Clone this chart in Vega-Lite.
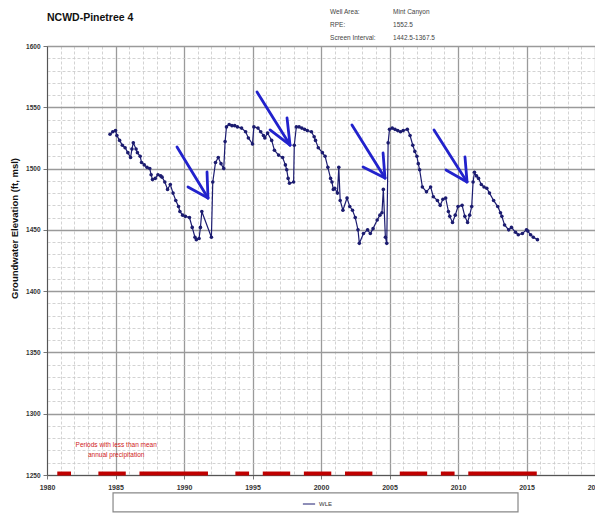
{
  "$schema": "https://vega.github.io/schema/vega-lite/v6.json",
  "width": 548,
  "height": 429,
  "autosize": "none",
  "padding": {"left": 47, "top": 46, "right": 0, "bottom": 40},
  "background": "white",
  "config": {"font": "Liberation Sans", "view": {"stroke": null}},
  "title": {"text": "NCWD-Pinetree 4", "anchor": "start", "frame": "group", "fontSize": 10.5, "fontWeight": "bold", "font": "Liberation Sans", "baseline": "alphabetic", "offset": -22, "color": "#111"},
  "datasets": {
    "wle": [
      {"t": 1984.6, "v": 1528}, {"t": 1984.8, "v": 1530}, {"t": 1985.0, "v": 1531}, {"t": 1985.1, "v": 1527},
      {"t": 1985.3, "v": 1523}, {"t": 1985.5, "v": 1519}, {"t": 1985.7, "v": 1517}, {"t": 1985.9, "v": 1513},
      {"t": 1986.1, "v": 1509}, {"t": 1986.2, "v": 1516}, {"t": 1986.3, "v": 1521}, {"t": 1986.5, "v": 1516},
      {"t": 1986.6, "v": 1513}, {"t": 1986.8, "v": 1510}, {"t": 1986.9, "v": 1505}, {"t": 1987.1, "v": 1503},
      {"t": 1987.3, "v": 1501}, {"t": 1987.5, "v": 1500}, {"t": 1987.6, "v": 1495}, {"t": 1987.7, "v": 1491},
      {"t": 1987.9, "v": 1492}, {"t": 1988.1, "v": 1495}, {"t": 1988.3, "v": 1494}, {"t": 1988.4, "v": 1493},
      {"t": 1988.6, "v": 1489}, {"t": 1988.8, "v": 1483}, {"t": 1989.0, "v": 1487}, {"t": 1989.2, "v": 1480},
      {"t": 1989.4, "v": 1474}, {"t": 1989.6, "v": 1469}, {"t": 1989.7, "v": 1465}, {"t": 1989.9, "v": 1462},
      {"t": 1990.1, "v": 1461}, {"t": 1990.4, "v": 1460}, {"t": 1990.6, "v": 1452}, {"t": 1990.8, "v": 1444},
      {"t": 1990.9, "v": 1442}, {"t": 1991.1, "v": 1443}, {"t": 1991.2, "v": 1452}, {"t": 1991.3, "v": 1465},
      {"t": 1992.0, "v": 1444}, {"t": 1992.1, "v": 1489}, {"t": 1992.3, "v": 1505}, {"t": 1992.5, "v": 1509},
      {"t": 1992.7, "v": 1504}, {"t": 1992.9, "v": 1500}, {"t": 1993.0, "v": 1522}, {"t": 1993.1, "v": 1534},
      {"t": 1993.3, "v": 1536}, {"t": 1993.5, "v": 1535}, {"t": 1993.7, "v": 1535}, {"t": 1993.9, "v": 1534},
      {"t": 1994.2, "v": 1533}, {"t": 1994.5, "v": 1530}, {"t": 1994.7, "v": 1525}, {"t": 1995.0, "v": 1520},
      {"t": 1995.1, "v": 1534}, {"t": 1995.4, "v": 1533}, {"t": 1995.6, "v": 1530}, {"t": 1995.8, "v": 1527},
      {"t": 1995.9, "v": 1525}, {"t": 1996.1, "v": 1529}, {"t": 1996.4, "v": 1523}, {"t": 1996.6, "v": 1515},
      {"t": 1996.9, "v": 1511}, {"t": 1997.2, "v": 1509}, {"t": 1997.4, "v": 1503}, {"t": 1997.5, "v": 1499},
      {"t": 1997.6, "v": 1492}, {"t": 1997.7, "v": 1488}, {"t": 1998.0, "v": 1489}, {"t": 1998.05, "v": 1519},
      {"t": 1998.2, "v": 1534}, {"t": 1998.4, "v": 1534}, {"t": 1998.6, "v": 1533}, {"t": 1998.8, "v": 1532},
      {"t": 1999.0, "v": 1531}, {"t": 1999.3, "v": 1530}, {"t": 1999.5, "v": 1526}, {"t": 1999.6, "v": 1523},
      {"t": 1999.8, "v": 1517}, {"t": 2000.1, "v": 1513}, {"t": 2000.3, "v": 1510}, {"t": 2000.5, "v": 1501},
      {"t": 2000.7, "v": 1492}, {"t": 2000.8, "v": 1489}, {"t": 2000.9, "v": 1483}, {"t": 2001.0, "v": 1484},
      {"t": 2001.2, "v": 1480}, {"t": 2001.3, "v": 1501}, {"t": 2001.4, "v": 1474}, {"t": 2001.6, "v": 1466},
      {"t": 2001.9, "v": 1476}, {"t": 2002.1, "v": 1469}, {"t": 2002.3, "v": 1466}, {"t": 2002.5, "v": 1460},
      {"t": 2002.7, "v": 1450}, {"t": 2002.8, "v": 1439}, {"t": 2003.1, "v": 1447}, {"t": 2003.4, "v": 1450},
      {"t": 2003.6, "v": 1447}, {"t": 2003.8, "v": 1451}, {"t": 2004.1, "v": 1458}, {"t": 2004.3, "v": 1462},
      {"t": 2004.45, "v": 1464}, {"t": 2004.55, "v": 1483}, {"t": 2004.7, "v": 1444}, {"t": 2004.8, "v": 1439},
      {"t": 2004.9, "v": 1521}, {"t": 2005.0, "v": 1532}, {"t": 2005.2, "v": 1533}, {"t": 2005.4, "v": 1532},
      {"t": 2005.6, "v": 1531}, {"t": 2005.8, "v": 1530}, {"t": 2006.0, "v": 1531}, {"t": 2006.3, "v": 1532},
      {"t": 2006.5, "v": 1527}, {"t": 2006.7, "v": 1519}, {"t": 2006.85, "v": 1514}, {"t": 2007.0, "v": 1510},
      {"t": 2007.1, "v": 1504}, {"t": 2007.2, "v": 1499}, {"t": 2007.4, "v": 1485}, {"t": 2007.7, "v": 1481},
      {"t": 2008.0, "v": 1485}, {"t": 2008.2, "v": 1477}, {"t": 2008.5, "v": 1474}, {"t": 2008.7, "v": 1470},
      {"t": 2008.9, "v": 1475}, {"t": 2009.1, "v": 1476}, {"t": 2009.3, "v": 1465}, {"t": 2009.4, "v": 1461},
      {"t": 2009.6, "v": 1456}, {"t": 2009.8, "v": 1462}, {"t": 2010.0, "v": 1469}, {"t": 2010.3, "v": 1470},
      {"t": 2010.5, "v": 1461}, {"t": 2010.7, "v": 1456}, {"t": 2010.85, "v": 1462}, {"t": 2011.0, "v": 1469},
      {"t": 2011.1, "v": 1489}, {"t": 2011.2, "v": 1497}, {"t": 2011.35, "v": 1494}, {"t": 2011.5, "v": 1492},
      {"t": 2011.7, "v": 1487}, {"t": 2011.9, "v": 1485}, {"t": 2012.1, "v": 1484}, {"t": 2012.3, "v": 1480},
      {"t": 2012.6, "v": 1474}, {"t": 2012.9, "v": 1469}, {"t": 2013.1, "v": 1464}, {"t": 2013.2, "v": 1461},
      {"t": 2013.4, "v": 1454}, {"t": 2013.7, "v": 1450}, {"t": 2013.9, "v": 1452}, {"t": 2014.2, "v": 1448},
      {"t": 2014.4, "v": 1446}, {"t": 2014.7, "v": 1447}, {"t": 2015.0, "v": 1450}, {"t": 2015.1, "v": 1449},
      {"t": 2015.3, "v": 1446}, {"t": 2015.5, "v": 1444}, {"t": 2015.8, "v": 1442}
    ],
    "dry": [
      {"t": 1980.75, "t2": 1981.75}, {"t": 1983.75, "t2": 1985.75}, {"t": 1986.75, "t2": 1991.75},
      {"t": 1993.75, "t2": 1994.75}, {"t": 1995.75, "t2": 1997.75}, {"t": 1998.75, "t2": 2000.75},
      {"t": 2001.75, "t2": 2003.75}, {"t": 2005.75, "t2": 2007.75}, {"t": 2008.75, "t2": 2009.75},
      {"t": 2010.75, "t2": 2015.75}
    ],
    "arrows": [
      {"t": 1989.49, "v": 1517.6, "t2": 1991.75, "v2": 1476.0},
      {"t": 1990.29, "v": 1485.0, "t2": 1991.75, "v2": 1476.0},
      {"t": 1991.68, "v": 1497.2, "t2": 1991.75, "v2": 1476.0},
      {"t": 1995.33, "v": 1562.5, "t2": 1997.74, "v2": 1519.2},
      {"t": 1996.28, "v": 1531.5, "t2": 1997.74, "v2": 1519.2},
      {"t": 1997.52, "v": 1541.3, "t2": 1997.74, "v2": 1519.2},
      {"t": 2002.26, "v": 1535.6, "t2": 2004.67, "v2": 1492.3},
      {"t": 2003.07, "v": 1501.3, "t2": 2004.67, "v2": 1492.3},
      {"t": 2004.53, "v": 1512.7, "t2": 2004.67, "v2": 1492.3},
      {"t": 2008.25, "v": 1531.5, "t2": 2010.66, "v2": 1489.1},
      {"t": 2009.12, "v": 1498.9, "t2": 2010.66, "v2": 1489.1},
      {"t": 2010.51, "v": 1509.5, "t2": 2010.66, "v2": 1489.1}
    ],
    "header": [
      {"t": 2000.66, "v": 1627.7, "label": "Well Area:"},
      {"t": 2005.26, "v": 1627.7, "label": "Mint Canyon"},
      {"t": 2000.66, "v": 1617.1, "label": "RPE:"},
      {"t": 2005.26, "v": 1617.1, "label": "1552.5"},
      {"t": 2000.66, "v": 1606.5, "label": "Screen Interval:"},
      {"t": 2005.26, "v": 1606.5, "label": "1442.5-1367.5"}
    ],
    "note": [
      {"t": 1985.05, "v": 1274.6, "label": "Periods with less than mean"},
      {"t": 1985.05, "v": 1266.4, "label": "annual precipitation"}
    ]
  },
  "layer": [
    {
      "data": {"name": "wle"},
      "mark": {"type": "line", "strokeWidth": 1.2, "point": {"size": 13, "filled": true}, "clip": false},
      "encoding": {
        "x": {
          "field": "t", "type": "quantitative",
          "scale": {"domain": [1980, 2020], "nice": false, "zero": false},
          "axis": {
            "title": null,
            "values": [1980,1981,1982,1983,1984,1985,1986,1987,1988,1989,1990,1991,1992,1993,1994,1995,1996,1997,1998,1999,2000,2001,2002,2003,2004,2005,2006,2007,2008,2009,2010,2011,2012,2013,2014,2015,2016,2017,2018,2019,2020],
            "tickCount": 200,
            "format": "d",
            "labelExpr": "datum.value % 5 === 0 ? datum.label : ''",
            "labelOverlap": false,
            "labelFlush": false,
            "labelFontSize": 7,
            "labelFontWeight": "bold",
            "labelColor": "#333",
            "labelPadding": 4,
            "grid": true,
            "gridColor": {"condition": {"test": "datum.value % 5 === 0", "value": "#9a9a9a"}, "value": "#c8c8c8"},
            "gridDash": {"condition": {"test": "datum.value % 5 === 0", "value": []}, "value": [3, 2]},
            "gridWidth": {"condition": {"test": "datum.value % 5 === 0", "value": 1.3}, "value": 0.8},
            "tickColor": "#777",
            "tickSize": {"condition": {"test": "datum.value % 5 === 0", "value": 4}, "value": 0},
            "domainColor": "#555"
          }
        },
        "y": {
          "field": "v", "type": "quantitative",
          "scale": {"domain": [1250, 1600], "nice": false, "zero": false},
          "axis": {
            "title": "Groundwater Elevation (ft, msl)",
            "titleFontSize": 9.5,
            "titleFontWeight": "bold",
            "titleColor": "#111",
            "titleAngle": 270,
            "titleBaseline": "middle",
            "titleAlign": "center",
            "titleX": -33,
            "titleY": 182,
            "values": [1250,1260,1270,1280,1290,1300,1310,1320,1330,1340,1350,1360,1370,1380,1390,1400,1410,1420,1430,1440,1450,1460,1470,1480,1490,1500,1510,1520,1530,1540,1550,1560,1570,1580,1590,1600],
            "tickCount": 200,
            "format": "d",
            "labelExpr": "datum.value % 50 === 0 ? datum.label : ''",
            "labelOverlap": false,
            "labelFlush": false,
            "labelFontSize": 6.5,
            "labelFontWeight": "bold",
            "labelColor": "#333",
            "labelPadding": 3,
            "grid": true,
            "gridColor": {"condition": {"test": "datum.value % 50 === 0", "value": "#9a9a9a"}, "value": "#c8c8c8"},
            "gridDash": {"condition": {"test": "datum.value % 50 === 0", "value": []}, "value": [3, 2]},
            "gridWidth": {"condition": {"test": "datum.value % 50 === 0", "value": 1.3}, "value": 0.8},
            "tickColor": "#777",
            "tickSize": {"condition": {"test": "datum.value % 50 === 0", "value": 4}, "value": 0},
            "domainColor": "#555"
          }
        },
        "color": {
          "datum": "WLE",
          "scale": {"range": ["#1c1c70"]},
          "legend": {
            "orient": "none",
            "legendX": 255,
            "legendY": 451,
            "title": null,
            "direction": "horizontal",
            "padding": 0,
            "symbolType": "stroke",
            "symbolSize": 150,
            "symbolStrokeWidth": 1,
            "labelFontSize": 6,
            "labelColor": "#333",
            "labelOffset": 3
          }
        }
      }
    },
    {
      "data": {"name": "dry"},
      "mark": {"type": "rule", "color": "#c00000", "strokeWidth": 4, "clip": false},
      "encoding": {
        "x": {"field": "t", "type": "quantitative", "scale": {"domain": [1980, 2020], "nice": false, "zero": false}},
        "x2": {"field": "t2"},
        "y": {"datum": 1251.2, "type": "quantitative", "scale": {"domain": [1250, 1600], "nice": false, "zero": false}}
      }
    },
    {
      "data": {"values": [{}]},
      "mark": {"type": "rect", "fill": "white", "stroke": "#888", "strokeWidth": 1.2, "clip": false},
      "encoding": {
        "x": {"datum": 1984.82, "type": "quantitative", "scale": {"domain": [1980, 2020], "nice": false, "zero": false}},
        "x2": {"datum": 2014.38},
        "y": {"datum": 1235.4, "type": "quantitative", "scale": {"domain": [1250, 1600], "nice": false, "zero": false}},
        "y2": {"datum": 1219.9}
      }
    },
    {
      "data": {"name": "arrows"},
      "mark": {"type": "rule", "color": "#2222cc", "strokeWidth": 2.8, "strokeCap": "round", "clip": false},
      "encoding": {
        "x": {"field": "t", "type": "quantitative", "scale": {"domain": [1980, 2020], "nice": false, "zero": false}},
        "x2": {"field": "t2"},
        "y": {"field": "v", "type": "quantitative", "scale": {"domain": [1250, 1600], "nice": false, "zero": false}},
        "y2": {"field": "v2"}
      }
    },
    {
      "data": {"name": "note"},
      "mark": {"type": "text", "color": "#d02020", "fontSize": 6.5, "align": "center", "baseline": "middle", "clip": false},
      "encoding": {
        "x": {"field": "t", "type": "quantitative", "scale": {"domain": [1980, 2020], "nice": false, "zero": false}},
        "y": {"field": "v", "type": "quantitative", "scale": {"domain": [1250, 1600], "nice": false, "zero": false}},
        "text": {"field": "label"}
      }
    },
    {
      "data": {"name": "header"},
      "mark": {"type": "text", "color": "#444", "fontSize": 6.5, "align": "left", "baseline": "middle", "clip": false},
      "encoding": {
        "x": {"field": "t", "type": "quantitative", "scale": {"domain": [1980, 2020], "nice": false, "zero": false}},
        "y": {"field": "v", "type": "quantitative", "scale": {"domain": [1250, 1600], "nice": false, "zero": false}},
        "text": {"field": "label"}
      }
    }
  ]
}
